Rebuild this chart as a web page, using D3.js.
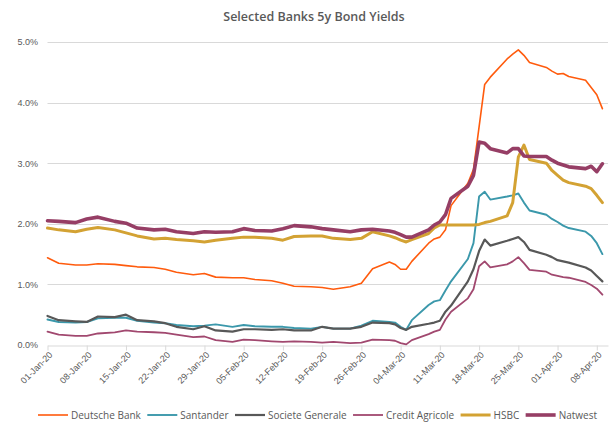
<!DOCTYPE html>
<html lang="en">
<head>
    <meta charset="UTF-8">
    <title>Selected Banks 5y Bond Yields</title>
    <script src="https://d3js.org/d3.v7.min.js"></script>
    <style>
        body {
            margin: 0;
            background-color: #fff;
            font-family: 'Open Sans', 'Noto Sans', sans-serif;
        }

        svg {
            display: block;
        }

        .axis text {
            fill: #595959;
            font-size: 9px;
        }
    </style>
</head>
<body>
    <svg id="chart" width="611" height="423"></svg>

    <script>
        const dates = [
            "2020-01-01", "2020-01-03", "2020-01-06", "2020-01-08", "2020-01-10", "2020-01-13", "2020-01-15",
            "2020-01-17", "2020-01-20", "2020-01-22", "2020-01-24", "2020-01-27", "2020-01-29", "2020-01-31",
            "2020-02-03", "2020-02-05", "2020-02-07", "2020-02-10", "2020-02-12", "2020-02-14", "2020-02-17",
            "2020-02-19", "2020-02-21", "2020-02-24", "2020-02-26", "2020-02-28",
            "2020-03-02", "2020-03-03", "2020-03-04", "2020-03-05", "2020-03-06",
            "2020-03-09", "2020-03-10", "2020-03-11", "2020-03-12", "2020-03-13",
            "2020-03-16", "2020-03-17", "2020-03-18", "2020-03-19", "2020-03-20",
            "2020-03-23", "2020-03-24", "2020-03-25", "2020-03-26", "2020-03-27",
            "2020-03-30", "2020-03-31", "2020-04-01", "2020-04-02", "2020-04-03",
            "2020-04-06", "2020-04-07", "2020-04-08", "2020-04-09"
        ];

        // yields in %
        const deutscheBank = [
            1.44, 1.35, 1.32, 1.32, 1.34, 1.33, 1.31, 1.29, 1.28, 1.25, 1.20, 1.16, 1.18, 1.12,
            1.11, 1.11, 1.08, 1.06, 1.02, 0.97, 0.96, 0.95, 0.92, 0.96, 1.02, 1.26,
            1.37, 1.33, 1.25, 1.25, 1.38, 1.68, 1.75, 1.78, 1.90, 2.30,
            2.67, 2.90, 3.60, 4.30, 4.42, 4.72, 4.80, 4.87, 4.78, 4.66,
            4.58, 4.52, 4.47, 4.48, 4.43, 4.37, 4.25, 4.13, 3.90
        ];
        const santander = [
            0.42, 0.38, 0.37, 0.38, 0.44, 0.45, 0.45, 0.40, 0.37, 0.36, 0.33, 0.31, 0.32, 0.34,
            0.30, 0.33, 0.31, 0.30, 0.30, 0.28, 0.27, 0.30, 0.27, 0.27, 0.32, 0.40,
            0.38, 0.37, 0.30, 0.25, 0.41, 0.66, 0.72, 0.74, 0.90, 1.05,
            1.42, 1.68, 2.45, 2.53, 2.40, 2.45, 2.47, 2.50, 2.35, 2.22,
            2.15, 2.08, 2.03, 1.97, 1.93, 1.87, 1.80, 1.68, 1.50
        ];
        const societeGenerale = [
            0.48, 0.41, 0.39, 0.38, 0.47, 0.46, 0.50, 0.41, 0.39, 0.36, 0.30, 0.26, 0.31, 0.24,
            0.22, 0.26, 0.26, 0.25, 0.26, 0.24, 0.24, 0.30, 0.27, 0.27, 0.30, 0.37,
            0.36, 0.34, 0.28, 0.25, 0.30, 0.35, 0.37, 0.40, 0.55, 0.65,
            1.05, 1.25, 1.55, 1.74, 1.64, 1.72, 1.75, 1.78, 1.70, 1.57,
            1.49, 1.45, 1.40, 1.38, 1.36, 1.28, 1.23, 1.14, 1.05
        ];
        const creditAgricole = [
            0.22, 0.17, 0.15, 0.15, 0.19, 0.21, 0.24, 0.22, 0.21, 0.20, 0.17, 0.13, 0.14, 0.08,
            0.05, 0.09, 0.08, 0.06, 0.05, 0.06, 0.05, 0.04, 0.05, 0.03, 0.04, 0.09,
            0.08, 0.07, 0.03, 0.01, 0.08, 0.18, 0.22, 0.25, 0.42, 0.55,
            0.77, 0.92, 1.30, 1.38, 1.28, 1.33, 1.38, 1.45, 1.35, 1.24,
            1.21, 1.16, 1.14, 1.12, 1.11, 1.04, 0.99, 0.93, 0.83
        ];
        const hsbc = [
            1.93, 1.90, 1.87, 1.91, 1.94, 1.90, 1.85, 1.80, 1.75, 1.76, 1.74, 1.72, 1.70, 1.73,
            1.76, 1.78, 1.78, 1.76, 1.73, 1.79, 1.80, 1.80, 1.76, 1.74, 1.76, 1.87,
            1.80, 1.77, 1.73, 1.70, 1.74, 1.84, 1.93, 1.98, 1.98, 1.98,
            1.98, 1.98, 1.99, 2.02, 2.04, 2.13, 2.35, 3.10, 3.30, 3.06,
            3.00, 2.88, 2.80, 2.72, 2.68, 2.62, 2.58, 2.47, 2.35
        ];
        const natwest = [
            2.05, 2.04, 2.02, 2.08, 2.11, 2.04, 2.01, 1.93, 1.90, 1.91, 1.87, 1.84, 1.87, 1.86,
            1.87, 1.92, 1.89, 1.88, 1.92, 1.97, 1.95, 1.92, 1.90, 1.87, 1.90, 1.91,
            1.88, 1.86, 1.82, 1.78, 1.78, 1.90, 1.98, 2.03, 2.15, 2.42,
            2.62, 2.80, 3.35, 3.33, 3.24, 3.17, 3.24, 3.24, 3.12, 3.11,
            3.11, 3.05, 3.00, 2.97, 2.94, 2.91, 2.95, 2.86, 2.99
        ];

        const yTicks = [0, 1, 2, 3, 4, 5];

        const parseDate = d3.timeParse("%Y-%m-%d");
        const dateValues = dates.map(parseDate);

        const series = [
            { name: "Deutsche Bank", values: deutscheBank, color: "#ff5b0d", width: 1.6 },
            { name: "Santander", values: santander, color: "#3b98ab", width: 1.9 },
            { name: "Societe Generale", values: societeGenerale, color: "#585858", width: 2.2 },
            { name: "Credit Agricole", values: creditAgricole, color: "#a1486f", width: 1.8 },
            { name: "HSBC", values: hsbc, color: "#d3a233", width: 3 },
            { name: "Natwest", values: natwest, color: "#963e65", width: 3.6 }
        ];

        const svg = d3.select("#chart");

        const x = d3.scaleTime()
            .domain([parseDate("2020-01-01"), parseDate("2020-04-10")])
            .range([47.5, 608]);

        const y = d3.scaleLinear()
            .domain([0, 5])
            .range([345, 42]);

        // title
        svg.append("text")
            .attr("x", 314)
            .attr("y", 21)
            .attr("text-anchor", "middle")
            .attr("fill", "#595959")
            .style("font-size", "12.5px")
            .style("font-weight", "600")
            .text("Selected Banks 5y Bond Yields");

        // gridlines
        svg.append("g")
            .selectAll("line")
            .data(yTicks.filter(d => d > 0))
            .join("line")
            .attr("x1", x.range()[0])
            .attr("x2", x.range()[1])
            .attr("y1", d => Math.round(y(d)) + 0.5)
            .attr("y2", d => Math.round(y(d)) + 0.5)
            .attr("stroke", "#d9d9d9")
            .attr("stroke-width", 1);

        // y axis labels
        const yAxis = svg.append("g")
            .attr("class", "axis")
            .attr("transform", "translate(47,0)")
            .call(d3.axisLeft(y).tickValues(yTicks).tickSize(0).tickPadding(9).tickFormat(d => d.toFixed(1) + "%"));
        yAxis.select(".domain").remove();

        // x axis
        const tickDates = d3.timeDay.range(parseDate("2020-01-01"), parseDate("2020-04-09"), 7);
        const xAxis = svg.append("g")
            .attr("class", "axis")
            .attr("transform", `translate(0,${Math.round(y(0)) + 0.5})`)
            .call(d3.axisBottom(x).tickValues(tickDates).tickSize(5).tickSizeOuter(0).tickFormat(d3.timeFormat("%d-%b-%y")));
        xAxis.select(".domain").attr("stroke", "#d9d9d9").attr("stroke-width", 1.2);
        xAxis.selectAll(".tick line").attr("stroke", "#d9d9d9");
        xAxis.selectAll(".tick text")
            .attr("y", 0)
            .attr("dy", 0)
            .attr("text-anchor", "end")
            .attr("transform", "translate(5,10) rotate(-45)");

        // lines
        const line = d3.line()
            .x((d, i) => x(dateValues[i]))
            .y(d => y(d));

        svg.append("g")
            .selectAll("path")
            .data(series)
            .join("path")
            .attr("d", d => line(d.values))
            .attr("fill", "none")
            .attr("stroke", d => d.color)
            .attr("stroke-width", d => d.width)
            .attr("stroke-linejoin", "round")
            .attr("stroke-linecap", "round");

        // legend, spread between x=38 and x=597
        const legend = svg.append("g");
        const items = legend.selectAll("g")
            .data(series)
            .join("g");

        items.append("line")
            .attr("x1", 0)
            .attr("x2", 30)
            .attr("y1", 0)
            .attr("y2", 0)
            .attr("stroke", d => d.color)
            .attr("stroke-width", d => d.width);

        items.append("text")
            .attr("x", 33)
            .attr("y", 3.5)
            .attr("fill", "#595959")
            .style("font-size", "10px")
            .text(d => d.name);

        const itemWidths = [];
        items.each(function () {
            itemWidths.push(33 + this.querySelector("text").getComputedTextLength());
        });
        const gap = (597 - 38 - d3.sum(itemWidths)) / (itemWidths.length - 1);
        let offset = 38;
        const positions = itemWidths.map(w => {
            const p = offset;
            offset += w + gap;
            return p;
        });
        items.attr("transform", (d, i) => `translate(${positions[i]},415)`);
    </script>
</body>
</html>
